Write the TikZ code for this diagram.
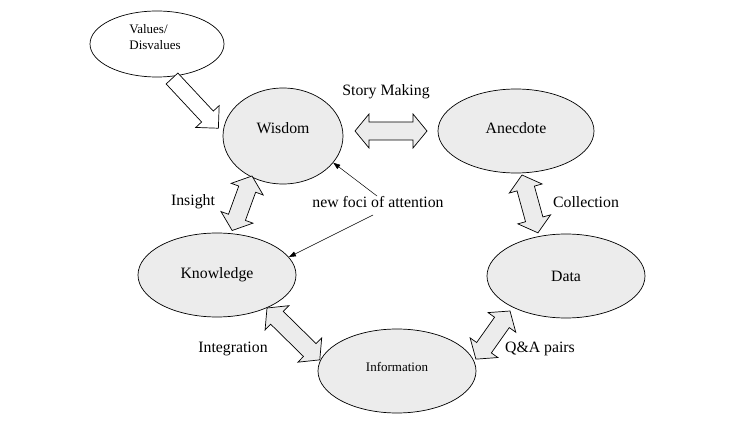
\documentclass[tikz,border=0pt]{standalone}
\usepackage{fontspec}
\setmainfont{Liberation Serif}
\usetikzlibrary{shapes.geometric,arrows.meta}
\tikzset{
  oval/.style={ellipse,draw,line width=0.7pt,fill=gray!15,inner sep=0pt,font=\fontsize{15.8}{18}\selectfont},
  lbl/.style={inner sep=0pt,font=\fontsize{15.8}{18}\selectfont},
  blockarrow/.style={draw,line width=0.7pt,fill=gray!15,line join=miter},
  thinarrow/.style={line width=0.5pt,-{Triangle[length=7pt,width=5pt]}}
}
\newcommand\dblarrow[3]{%
  \begin{scope}[shift={#1},rotate=#2]
    \path[blockarrow] (0,0) -- (14,17) -- (14,9) -- (#3-14,9) -- (#3-14,17) -- (#3,0)
      -- (#3-14,-17) -- (#3-14,-9) -- (14,-9) -- (14,-17) -- cycle;
  \end{scope}}
\begin{document}
\begin{tikzpicture}[x=1pt,y=1pt]
\useasboundingbox (0,0) rectangle (750,421);
% ellipses
\node[oval,fill=white,minimum width=134,minimum height=66] (values) at (157,377) {};
\node[inner sep=0pt,align=left,font=\fontsize{13}{16}\selectfont] (valtext) at (155,384) {Values/\\Disvalues};
\node[oval,minimum width=120,minimum height=96,text height=11pt,text depth=16pt] (wisdom) at (283,285) {Wisdom};
\node[oval,minimum width=156,minimum height=84,text height=11pt,text depth=6pt] (anecdote) at (516,290) {Anecdote};
\node[oval,minimum width=158,minimum height=84] (knowledge) at (217,146) {Knowledge};
\node[oval,minimum width=158,minimum height=84] (data) at (566,145) {Data};
\node[oval,minimum width=158,minimum height=84,font=\fontsize{13}{16}\selectfont,text height=9pt,text depth=9pt] (information) at (397,50) {Information};
% labels
\node[lbl] (story) at (386,329) {Story Making};
\node[lbl] (insight) at (193,219) {Insight};
\node[lbl] (collection) at (586,219) {Collection};
\node[lbl] (integration) at (233,72) {Integration};
\node[lbl] (qa) at (540,72) {Q\&A pairs};
\node[lbl] (foci) at (378,219) {new foci of attention};
% block arrows
\dblarrow{(355,290)}{0}{72}
\dblarrow{(252,245)}{-110}{58}
\dblarrow{(522,246)}{-74.6}{60}
\dblarrow{(267,113)}{-44.5}{74}
\dblarrow{(510,110)}{-125.3}{59}
\begin{scope}[shift={(172,342.5)},rotate=-47]
  \path[blockarrow,fill=white] (0,8) -- (52,8) -- (52,16) -- (68,0) -- (52,-16) -- (52,-8) -- (0,-8) -- cycle;
\end{scope}
% thin arrows
\coordinate (f1) at (377,225);
\coordinate (f2) at (373,206);
\draw[thinarrow] (f1) -- (wisdom.-28);
\draw[thinarrow] (f2) -- (knowledge.14);
\end{tikzpicture}
\end{document}
